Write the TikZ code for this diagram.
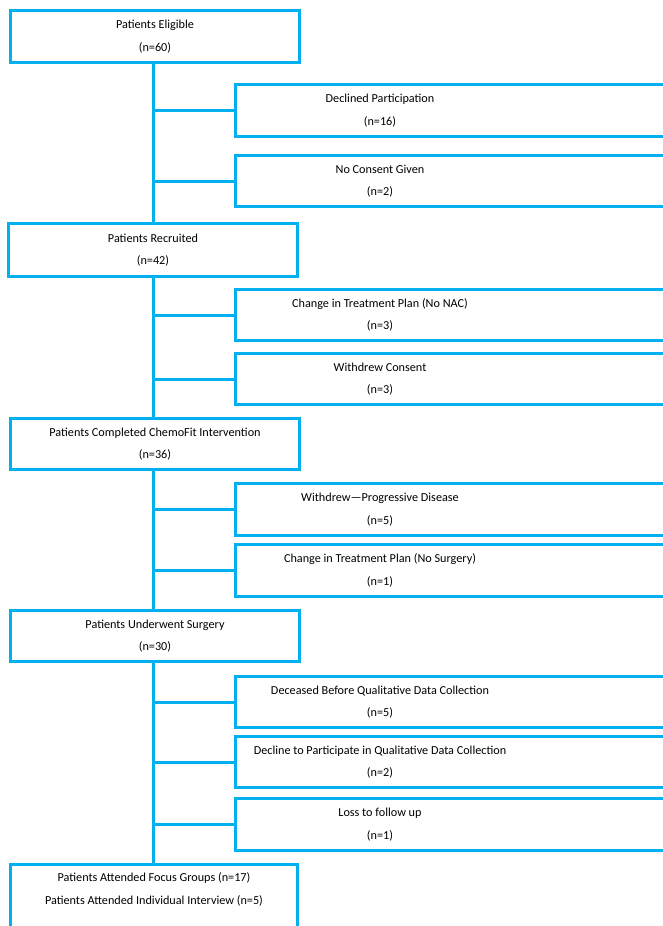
\documentclass[tikz,border=0pt]{standalone}
\usepackage{fontspec}
\setmainfont{Carlito}
\definecolor{lb}{HTML}{00B0F0}
\newcommand{\boxfont}{\fontsize{9.15}{17}\selectfont}
\begin{document}
\begin{tikzpicture}[x=0.75pt,y=-0.75pt,
  box/.style={draw=lb, line width=2.25pt, rectangle, inner sep=0pt, outer sep=0pt},
  lbox/.style={box, minimum width=216.75pt, minimum height=39pt, align=center, font=\boxfont},
  rbox/.style={box, minimum width=348pt, minimum height=38.5pt, anchor=west},
  txt/.style={align=center, font=\boxfont, inner sep=0pt},
  link/.style={draw=lb, line width=2.25pt}]
\useasboundingbox (0,0) rectangle (663,926);
\clip (0,0) rectangle (663,926);
\coordinate (tx) at (153,0);
% main column
\node[lbox] (elig) at (155,36.5) {Patients Eligible\\(n=60)};
\node[lbox, minimum height=39.75pt] (recr) at (153,250) {Patients Recruited\\(n=42)};
\node[lbox, minimum height=38.25pt] (chemo) at (155,444) {Patients Completed ChemoFit Intervention\\(n=36)};
\node[lbox, minimum height=38.25pt] (surg) at (155,636) {Patients Underwent Surgery\\(n=30)};
\node[box, minimum width=215.25pt, minimum height=71.6pt] (final) at (154,912) {};
\node[txt] (finaltxt) at (154,889.5) {Patients Attended Focus Groups (n=17)\\Patients Attended Individual Interview (n=5)};
% side boxes
\node[rbox, minimum height=39pt] (decl) at (235.5,110.5) {};
\node[txt] (decltxt) at (380,110.5) {Declined Participation\\(n=16)};
\node[rbox] (nocons) at (235.5,181) {};
\node[txt] (noconstxt) at (380,181) {No Consent Given\\(n=2)};
\node[rbox] (nonac) at (235.5,315) {};
\node[txt] (nonactxt) at (380,315) {Change in Treatment Plan (No NAC)\\(n=3)};
\node[rbox] (wcons) at (235.5,379) {};
\node[txt] (wconstxt) at (380,379) {Withdrew Consent\\(n=3)};
\node[rbox, minimum height=39pt] (prog) at (235.5,509.5) {};
\node[txt] (progtxt) at (380,509.5) {Withdrew—Progressive Disease\\(n=5)};
\node[rbox] (nosurg) at (235.5,570.5) {};
\node[txt] (nosurgtxt) at (380,570.5) {Change in Treatment Plan (No Surgery)\\(n=1)};
\node[rbox] (dec) at (235.5,702) {};
\node[txt] (dectxt) at (380,702) {Deceased Before Qualitative Data Collection\\(n=5)};
\node[rbox] (declq) at (235.5,762) {};
\node[txt] (declqtxt) at (380,762) {Decline to Participate in Qualitative Data Collection\\(n=2)};
\node[rbox] (loss) at (235.5,824.5) {};
\node[txt] (losstxt) at (380,824.5) {Loss to follow up\\(n=1)};
% trunk
\draw[link] (elig.south -| tx) -- (recr.north -| tx);
\draw[link] (recr.south -| tx) -- (chemo.north -| tx);
\draw[link] (chemo.south -| tx) -- (surg.north -| tx);
\draw[link] (surg.south -| tx) -- (final.north -| tx);
% branches
\foreach \b in {decl,nocons,nonac,wcons,prog,nosurg,dec,declq,loss}
  \draw[link] (\b.west -| tx) -- (\b.west);
\end{tikzpicture}
\end{document}
